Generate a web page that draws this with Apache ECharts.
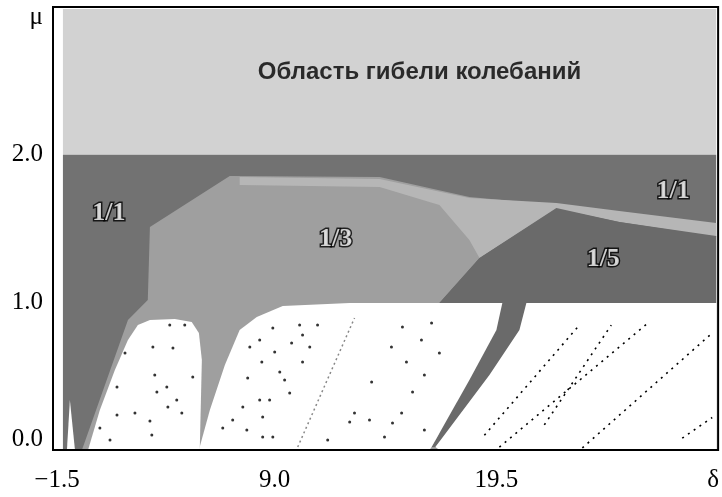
<!DOCTYPE html>
<html>
<head>
<meta charset="utf-8">
<script src="https://cdn.jsdelivr.net/npm/echarts@6/dist/echarts.min.js"></script>
<style>html,body{margin:0;padding:0;background:#fff}#c{width:722px;height:497px}</style>
</head>
<body>
<div id="c"></div>
<script>
// ---- axis ticks ----
const xTickValues = [-1.5, 9.0, 19.5, 30.0];
const xTickLabels = ['−1.5', '9.0', '19.5', 'δ'];
const yTickValues = [0, 1, 2, 3];
const yTickLabels = ['0.0', '1.0', '2.0', 'μ'];

// ---- regions (δ, μ) ----
const regionTop = [[-1.03, 2.0], [29.91, 2.0], [29.91, 2.986], [-1.03, 2.986]];
const region11 = [[-1.03, 0], [29.91, 0], [29.91, 2.0], [-1.03, 2.0]];
const region13 = [[6.87, 1.855], [13.97, 1.849], [18.22, 1.713], [22.34, 1.659], [18.70, 1.30], [16.80, 0.995],
  [16.80, 0], [-0.13, 0], [2.05, 0.88], [2.99, 1.016], [3.09, 1.51]];
const regionBand = [[7.34, 1.849], [13.97, 1.835], [18.22, 1.707], [22.34, 1.673], [25.32, 1.618], [29.91, 1.537],
  [29.91, 1.442], [25.32, 1.544], [22.34, 1.632], [18.70, 1.30], [18.22, 1.422], [16.80, 1.659], [13.97, 1.781], [7.34, 1.794]];
const region15 = [[16.80, 0.995], [18.70, 1.30], [22.34, 1.639], [25.32, 1.544], [29.91, 1.449], [29.91, 0.995],
  [20.92, 0.995], [20.59, 0.813], [19.17, 0.508], [16.61, 0.02], [16.43, 0.02], [18.22, 0.474], [19.50, 0.813], [19.78, 0.995]];
const white1 = [[0.16, 0], [0.72, 0.271], [1.43, 0.542], [2.05, 0.745], [2.52, 0.846], [3.09, 0.880], [4.27, 0.887],
  [5.07, 0.867], [5.41, 0.792], [5.55, 0.609], [5.45, 0]];
const white1b = [[-0.84, 0], [-0.70, 0.339], [-0.46, 0]];
const white2 = [[5.41, 0], [5.93, 0.271], [6.64, 0.576], [7.34, 0.813], [8.15, 0.901], [9.38, 0.975], [12.55, 0.995],
  [19.78, 0.995], [19.50, 0.813], [18.22, 0.474], [16.43, 0.02], [16.33, 0]];
const white3 = [[20.92, 0.995], [29.91, 0.995], [29.91, 0], [16.80, 0], [16.61, 0.02], [19.17, 0.508], [20.59, 0.813]];

// ---- dotted trajectories ----
const traceGray = [[10.09, 0.02], [12.78, 0.894]];
const traces = [
  [[23.57, 0.014], [29.72, 0.792]],
  [[19.64, 0.02], [26.74, 0.867]],
  [[18.93, 0.10], [23.43, 0.846]],
  [[21.77, 0.17], [24.94, 0.846]],
  [[28.3, 0.08], [29.72, 0.22]]
];
// ---- scattered points ----
const dots = [[3.23,0.697],[4.18,0.691],[5.12,0.494],[3.32,0.508],[3.42,0.393],[3.89,0.427],[4.36,0.339],[3.94,0.291],
  [4.60,0.251],[1.53,0.427],[1.53,0.237],[2.38,0.251],[3.09,0.196],[3.18,0.102],[1.20,0.068],[0.72,0.149],[1.91,0.657],
  [4.03,0.846],[4.74,0.846],[6.54,0.149],[7.01,0.203],[8.91,0.826],[10.18,0.846],[11.03,0.846],[10.32,0.779],[8.29,0.745],
  [7.82,0.697],[9.80,0.725],[10.66,0.697],[9.00,0.664],[8.39,0.596],[10.32,0.596],[9.24,0.528],[7.72,0.488],[9.47,0.474],
  [9.71,0.386],[8.29,0.339],[8.76,0.339],[7.49,0.291],[8.43,0.223],[7.68,0.135],[8.43,0.088],[8.91,0.088],[11.51,0.068],
  [12.78,0.251],[12.55,0.190],[13.59,0.460],[14.53,0.697],[15.05,0.833],[15.24,0.596],[15.53,0.393],[15.01,0.251],
  [14.58,0.183],[13.49,0.203],[14.20,0.088],[15.95,0.745],[16.43,0.860],[16.09,0.508],[16.80,0.657],[16.09,0.135]];

// ---- annotations ----
const regionNames = ['1/1', '1/3', '1/5', '1/1'];
const regionLabelPos = [[1.15, 1.605], [11.89, 1.429], [24.56, 1.293], [27.87, 1.754]];
const topTitle = 'Область гибели колебаний';
const topTitlePos = [15.86, 2.56];

function region(points, fill, z) {
  return {
    type: 'custom', coordinateSystem: 'cartesian2d', silent: true, z: z, clip: true,
    data: [points[0]],
    renderItem: function (params, api) {
      return { type: 'polygon', shape: { points: points.map(p => api.coord(p)) }, style: { fill: fill } };
    }
  };
}

const serif = 'Liberation Serif';
const series = [
  region(regionTop, '#d2d2d2', 1),
  region(region11, '#727272', 2),
  region(region13, '#9f9f9f', 3),
  region(regionBand, '#b6b6b6', 4),
  region(region15, '#6a6a6a', 5),
  region(white1, '#ffffff', 6),
  region(white1b, '#ffffff', 6),
  region(white2, '#ffffff', 6),
  region(white3, '#ffffff', 6),
  { type: 'line', data: traceGray, showSymbol: false, silent: true, z: 7,
    lineStyle: { color: '#888888', width: 1.5, type: [2, 3] } }
];
traces.forEach(t => series.push({ type: 'line', data: t, showSymbol: false, silent: true, z: 7,
  lineStyle: { color: '#000000', width: 1.6, type: [2, 5] } }));
series.push({ type: 'scatter', data: dots, symbolSize: 3, silent: true, z: 8, itemStyle: { color: '#000' } });
series.push({
  type: 'scatter', silent: true, z: 10, symbolSize: 1, itemStyle: { color: 'rgba(0,0,0,0)' },
  data: regionNames.map((n, i) => ({ name: n, value: regionLabelPos[i] })),
  label: { show: true, position: 'inside', formatter: '{b}', fontFamily: serif, fontWeight: 'bold', fontSize: 26,
    color: '#ffffff', textBorderColor: '#000000', textBorderWidth: 3 }
});
series.push({
  type: 'scatter', silent: true, z: 10, symbolSize: 1, itemStyle: { color: 'rgba(0,0,0,0)' },
  data: [{ name: topTitle, value: topTitlePos }],
  label: { show: true, position: 'inside', formatter: '{b}', fontFamily: 'Liberation Sans', fontWeight: 'bold',
    fontSize: 24, color: '#000000' }
});

function nearestIdx(arr, v) {
  let b = 0; for (let i = 1; i < arr.length; i++) if (Math.abs(arr[i] - v) < Math.abs(arr[b] - v)) b = i; return b;
}

const chart = echarts.init(document.getElementById('c'), null, { renderer: 'canvas' });
chart.setOption({
  animation: false,
  backgroundColor: '#ffffff',
  grid: { left: 53, right: 3, top: 7, bottom: 47, show: true, borderColor: '#000', borderWidth: 2, backgroundColor: 'transparent', z: 20 },
  xAxis: {
    type: 'value', min: -1.5, max: 30,
    splitLine: { show: false }, axisLine: { show: false }, axisTick: { show: false },
    axisLabel: {
      customValues: xTickValues, margin: 18, fontFamily: serif, fontSize: 25, color: '#000',
      formatter: function (v) {
        const i = nearestIdx(xTickValues, v);
        return i === 0 ? '{a|' + xTickLabels[i] + '}' : (i === xTickValues.length - 1 ? '{d|' + xTickLabels[i] + '}' : xTickLabels[i]);
      },
      rich: {
        a: { fontFamily: serif, fontSize: 25, color: '#000', padding: [0, 0, 0, 8] },
        d: { fontFamily: serif, fontSize: 25, color: '#000', padding: [0, 10, 0, 0] }
      }
    }
  },
  yAxis: {
    type: 'value', min: 0, max: 3,
    splitLine: { show: false }, axisLine: { show: false }, axisTick: { show: false },
    axisLabel: {
      customValues: yTickValues, margin: 10, fontFamily: serif, fontSize: 25, color: '#000',
      formatter: function (v) {
        const i = nearestIdx(yTickValues, v);
        if (i === 0) return '{lo|' + yTickLabels[i] + '}';
        if (i === yTickValues.length - 1) return '{mu|' + yTickLabels[i] + '}';
        return yTickLabels[i];
      },
      rich: {
        lo: { fontFamily: serif, fontSize: 25, color: '#000', padding: [0, 0, 22, 0] },
        mu: { fontFamily: serif, fontSize: 25, color: '#000', padding: [20, 0, 0, 0] }
      }
    }
  },
  series: series
});
</script>
</body>
</html>
